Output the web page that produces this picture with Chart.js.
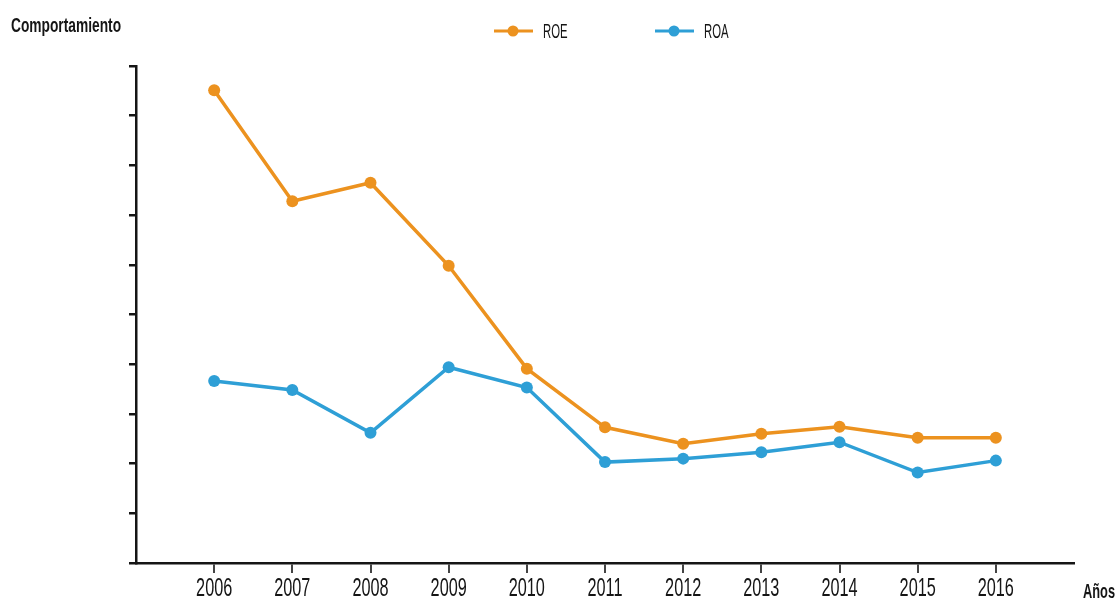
<!DOCTYPE html>
<html>
<head>
<meta charset="utf-8">
<script src="https://cdn.jsdelivr.net/npm/chart.js@4/dist/chart.umd.min.js"></script>
<style>
  html, body { margin: 0; padding: 0; background: #fff; }
  #wrap { width: 1119px; height: 607px; }
</style>
</head>
<body>
<div id="wrap"><canvas id="ratiosChart" width="1119" height="607"></canvas></div>
<script>
// Years on the horizontal axis
const years = [2006, 2007, 2008, 2009, 2010, 2011, 2012, 2013, 2014, 2015, 2016];
// Return on equity and return on assets (axis without numbers, 0-10 units)
const roe = [9.51, 7.28, 7.65, 5.98, 3.91, 2.73, 2.40, 2.60, 2.74, 2.52, 2.52];
const roa = [3.66, 3.48, 2.62, 3.94, 3.53, 2.03, 2.10, 2.23, 2.43, 1.82, 2.06];
const yTicks = [0, 1, 2, 3, 4, 5, 6, 7, 8, 9, 10];

const ORANGE = '#EC921F';
const BLUE = '#2E9FD6';
const INK = '#151515';
const FONT = '"Liberation Sans", Arial, sans-serif';

// squeezed text: the lettering is a very narrow face
function narrowText(ctx, text, x, y, font, sx, align) {
    ctx.save();
    ctx.font = font;
    ctx.textAlign = align || 'left';
    ctx.textBaseline = 'middle';
    ctx.translate(x, y);
    ctx.scale(sx, 1);
    ctx.fillText(text, 0, 0);
    ctx.restore();
}

// titles, year labels and the line+dot legend, drawn onto the canvas
const decorations = {
    id: 'decorations',
    afterDraw(chart) {
        const ctx = chart.ctx;
        ctx.save();
        ctx.fillStyle = INK;
        narrowText(ctx, 'Comportamiento', 11, 26, 'bold 21px ' + FONT, 0.655);
        narrowText(ctx, 'Años', 1083, 592, 'bold 21px ' + FONT, 0.61);

        // year labels under each tick of the x scale
        const xs = chart.scales.x;
        xs.ticks.forEach(t => {
            narrowText(ctx, String(t.value), xs.getPixelForValue(t.value), 589, '25px ' + FONT, 0.65, 'center');
        });

        const items = [
            { x: 494, ds: chart.data.datasets[0] },
            { x: 655, ds: chart.data.datasets[1] }
        ];
        items.forEach(it => {
            const y = 31;
            ctx.strokeStyle = it.ds.borderColor;
            ctx.lineWidth = 3;
            ctx.beginPath();
            ctx.moveTo(it.x, y);
            ctx.lineTo(it.x + 39, y);
            ctx.stroke();
            ctx.fillStyle = it.ds.borderColor;
            ctx.beginPath();
            ctx.arc(it.x + 19, y, 5.5, 0, Math.PI * 2);
            ctx.fill();
            ctx.fillStyle = INK;
            narrowText(ctx, it.ds.label, it.x + 49, y + 1, '21px ' + FONT, 0.54);
        });
        ctx.restore();
    }
};

const ctx = document.getElementById('ratiosChart').getContext('2d');
new Chart(ctx, {
    type: 'line',
    data: {
        datasets: [
            {
                label: 'ROE',
                data: years.map((y, i) => ({ x: y, y: roe[i] })),
                borderColor: ORANGE,
                backgroundColor: ORANGE,
                borderWidth: 3.5,
                pointRadius: 6,
                pointBorderWidth: 0,
                tension: 0
            },
            {
                label: 'ROA',
                data: years.map((y, i) => ({ x: y, y: roa[i] })),
                borderColor: BLUE,
                backgroundColor: BLUE,
                borderWidth: 3.5,
                pointRadius: 6,
                pointBorderWidth: 0,
                tension: 0
            }
        ]
    },
    options: {
        responsive: false,
        animation: false,
        clip: false,
        layout: { padding: { left: 126, top: 66, right: 45, bottom: 0 } },
        plugins: {
            legend: { display: false },
            title: { display: false },
            tooltip: { enabled: false }
        },
        scales: {
            x: {
                type: 'linear',
                min: 2005,
                max: 2017,
                afterBuildTicks: scale => { scale.ticks = years.map(v => ({ value: v })); },
                afterFit: scale => { scale.height = 44; },
                border: { display: true, color: INK, width: 2.5 },
                grid: { drawOnChartArea: false, drawTicks: true, tickLength: 10, color: '#444', lineWidth: 2 },
                ticks: { display: false }
            },
            y: {
                min: 0,
                max: 10,
                afterBuildTicks: scale => { scale.ticks = yTicks.map(v => ({ value: v })); },
                afterFit: scale => { scale.width = 10; },
                border: { display: true, color: INK, width: 2.5 },
                grid: { drawOnChartArea: false, drawTicks: true, tickLength: 7, color: INK, lineWidth: 2.5 },
                ticks: { display: false }
            }
        }
    },
    plugins: [decorations]
});
</script>
</body>
</html>
